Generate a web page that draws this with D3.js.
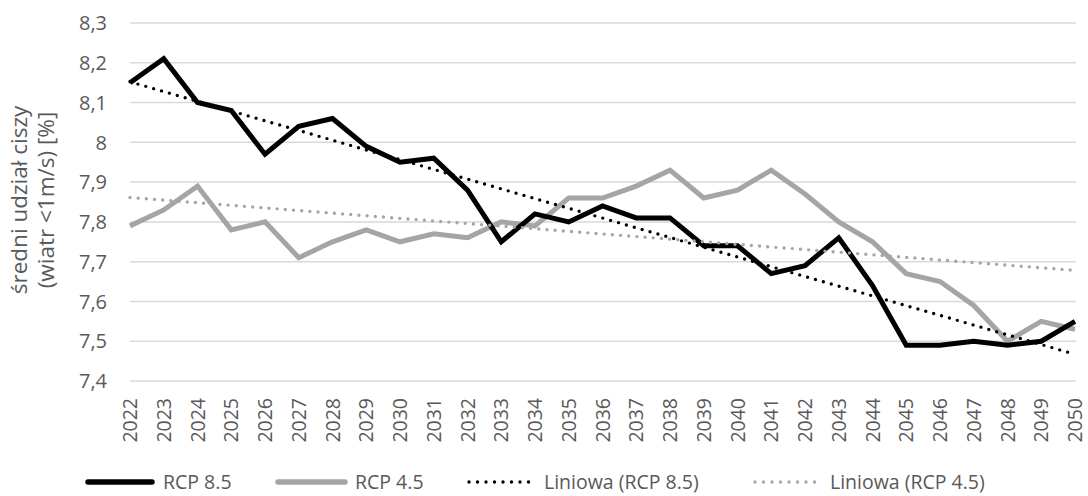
<!DOCTYPE html>
<html>
<head>
<meta charset="utf-8">
<script src="https://cdn.jsdelivr.net/npm/d3@7"></script>
<style>
  html, body { margin: 0; padding: 0; background: #fff; }
  svg { display: block; font-family: "Open Sans", "Noto Sans", "DejaVu Sans", sans-serif; }
</style>
</head>
<body>
<svg id="chart" width="1088" height="496"></svg>
<script>
// Years on the category axis
const years = [2022, 2023, 2024, 2025, 2026, 2027, 2028, 2029, 2030, 2031,
  2032, 2033, 2034, 2035, 2036, 2037, 2038, 2039, 2040, 2041,
  2042, 2043, 2044, 2045, 2046, 2047, 2048, 2049, 2050];

// Mean share of calm (wind < 1 m/s), %
const rcp85 = [8.15, 8.21, 8.10, 8.08, 7.97, 8.04, 8.06, 7.99, 7.95, 7.96,
  7.88, 7.75, 7.82, 7.80, 7.84, 7.81, 7.81, 7.74, 7.74, 7.67,
  7.69, 7.76, 7.64, 7.49, 7.49, 7.50, 7.49, 7.50, 7.55];
const rcp45 = [7.79, 7.83, 7.89, 7.78, 7.80, 7.71, 7.75, 7.78, 7.75, 7.77,
  7.76, 7.80, 7.79, 7.86, 7.86, 7.89, 7.93, 7.86, 7.88, 7.93,
  7.87, 7.80, 7.75, 7.67, 7.65, 7.59, 7.50, 7.55, 7.53];

const yTicks = [7.4, 7.5, 7.6, 7.7, 7.8, 7.9, 8.0, 8.1, 8.2, 8.3];
const yTitle = ["średni udział ciszy", "(wiatr <1m/s) [%]"];
const legendLabels = ["RCP 8.5", "RCP 4.5", "Liniowa (RCP 8.5)", "Liniowa (RCP 4.5)"];

const svg = d3.select("#chart");
const plot = { left: 130, right: 1075, top: 23, bottom: 381 };

const x = d3.scalePoint().domain(years).range([plot.left, plot.right]);
const y = d3.scaleLinear().domain([7.4, 8.3]).range([plot.bottom, plot.top]);

// Least-squares linear trend over the year index
function linearTrend(values) {
  const n = values.length;
  const xs = d3.range(n);
  const mx = d3.mean(xs), my = d3.mean(values);
  const sxy = d3.sum(xs, (v, i) => (v - mx) * (values[i] - my));
  const sxx = d3.sum(xs, v => (v - mx) * (v - mx));
  const b = sxy / sxx, a = my - b * mx;
  return xs.map(i => a + b * i);
}
const trend85 = linearTrend(rcp85);
const trend45 = linearTrend(rcp45);

// Horizontal gridlines
svg.append("g")
  .selectAll("line")
  .data(yTicks)
  .join("line")
  .attr("x1", plot.left).attr("x2", plot.right + 1)
  .attr("y1", d => y(d)).attr("y2", d => y(d))
  .attr("stroke", "#d9d9d9").attr("stroke-width", 1.5);

// Y axis tick labels
const fmt = v => (Math.abs(v - Math.round(v)) < 1e-9 ? String(Math.round(v)) : v.toFixed(1).replace(".", ","));
svg.append("g")
  .selectAll("text")
  .data(yTicks)
  .join("text")
  .attr("x", 107).attr("y", d => y(d))
  .attr("dy", "0.36em")
  .attr("text-anchor", "end")
  .attr("font-size", 20)
  .attr("fill", "#595959")
  .text(fmt);

// X axis labels, rotated
svg.append("g")
  .selectAll("text")
  .data(years)
  .join("text")
  .attr("transform", d => `translate(${x(d)},${398}) rotate(-90)`)
  .attr("text-anchor", "end")
  .attr("dy", "0.36em")
  .attr("font-size", 19.5)
  .attr("fill", "#595959")
  .text(d => d);

// Y axis title (two lines)
const titleG = svg.append("g").attr("transform", "translate(0,200) rotate(-90)");
titleG.selectAll("text")
  .data(yTitle)
  .join("text")
  .attr("x", 0)
  .attr("y", (d, i) => 27 + i * 27)
  .attr("text-anchor", "middle")
  .attr("font-size", 22.5)
  .attr("fill", "#595959")
  .text(d => d);

const line = d3.line().x((d, i) => x(years[i])).y(d => y(d));

const styles = [
  { data: trend45, stroke: "#a5a5a5", width: 3.4, dash: "0 8.2", cap: "round" },
  { data: trend85, stroke: "#000000", width: 3.4, dash: "0 8.2", cap: "round" },
  { data: rcp45, stroke: "#a5a5a5", width: 5, dash: null, cap: "butt" },
  { data: rcp85, stroke: "#000000", width: 5, dash: null, cap: "butt" }
];

// Series and trend lines
svg.append("g")
  .selectAll("path")
  .data([styles[2], styles[3], styles[1], styles[0]])
  .join("path")
  .attr("d", s => line(s.data))
  .attr("fill", "none")
  .attr("stroke", s => s.stroke)
  .attr("stroke-width", s => s.width)
  .attr("stroke-linejoin", "miter")
  .attr("stroke-linecap", s => s.cap)
  .attr("stroke-dasharray", s => s.dash);

// Legend
const legendItems = [
  { label: legendLabels[0], s: styles[3], x0: 88, x1: 152, tx: 163 },
  { label: legendLabels[1], s: styles[2], x0: 278, x1: 345, tx: 355 },
  { label: legendLabels[2], s: styles[1], x0: 469, x1: 537, tx: 544 },
  { label: legendLabels[3], s: styles[0], x0: 755, x1: 823, tx: 830 }
];
const lg = svg.append("g").attr("transform", "translate(0,482)");
lg.selectAll("line")
  .data(legendItems)
  .join("line")
  .attr("x1", d => d.x0).attr("x2", d => d.x1)
  .attr("y1", 0).attr("y2", 0)
  .attr("stroke", d => d.s.stroke)
  .attr("stroke-width", d => d.s.dash ? 3.4 : 5.5)
  .attr("stroke-linecap", "round")
  .attr("stroke-dasharray", d => d.s.dash ? "0 8.5" : null);
lg.selectAll("text")
  .data(legendItems)
  .join("text")
  .attr("x", d => d.tx).attr("y", 0)
  .attr("dy", "0.36em")
  .attr("font-size", 19.5)
  .attr("fill", "#595959")
  .text(d => d.label);
</script>
</body>
</html>
